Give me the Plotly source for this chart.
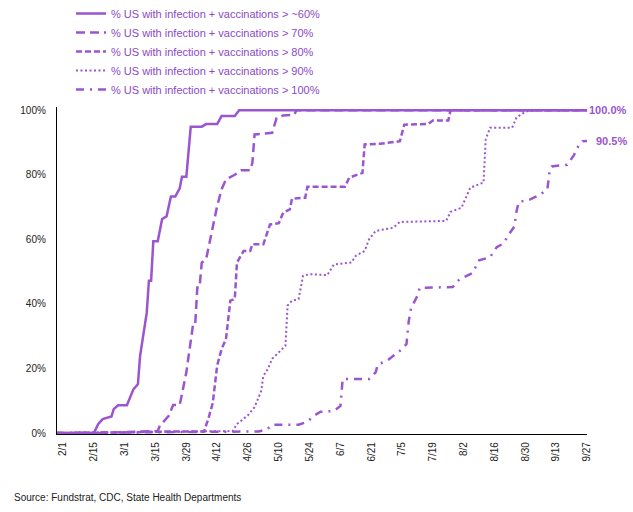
import plotly.graph_objects as go

PURPLE = "#9A55CF"

# ---- data ----
s60_dates = ["2021-01-29", "2021-02-15", "2021-02-17", "2021-02-19", "2021-02-23", "2021-02-24",
             "2021-02-26", "2021-03-02", "2021-03-05", "2021-03-07", "2021-03-08", "2021-03-11",
             "2021-03-12", "2021-03-13", "2021-03-14", "2021-03-16", "2021-03-18", "2021-03-20",
             "2021-03-22", "2021-03-24", "2021-03-26", "2021-03-27", "2021-03-29", "2021-03-31",
             "2021-04-05", "2021-04-07", "2021-04-12", "2021-04-14", "2021-04-20", "2021-04-22",
             "2021-09-27"]
s60_vals = [0, 0, 2.8, 4.3, 5.1, 7.4, 8.6, 8.6, 13.6, 15.1, 23.9, 37.2, 47.2, 47.2, 59.4, 59.4,
            66.3, 67.1, 73.3, 73.3, 75.8, 79.4, 79.4, 94.9, 94.9, 95.7, 95.7, 98.2, 98.2, 100, 100]

s70_dates = ["2021-01-29", "2021-02-15", "2021-03-01", "2021-03-16", "2021-03-17", "2021-03-21",
             "2021-03-23", "2021-03-26", "2021-03-29", "2021-03-31", "2021-04-01", "2021-04-02",
             "2021-04-03", "2021-04-04", "2021-04-05", "2021-04-07", "2021-04-10", "2021-04-12",
             "2021-04-14", "2021-04-16", "2021-04-20", "2021-04-23", "2021-04-27", "2021-04-28",
             "2021-04-29", "2021-05-07", "2021-05-09", "2021-05-12", "2021-05-17", "2021-05-18",
             "2021-09-27"]
s70_vals = [0, 0, 0.3, 0.6, 2.3, 5.3, 8.7, 8.7, 18.8, 29.1, 33.3, 33.3, 45.1, 45.1, 52.8, 53.9,
            64.2, 70.3, 75.5, 78.6, 80, 81.4, 81.4, 83.7, 92.5, 93, 97.6, 98.4, 98.6, 100, 100]

s80_dates = ["2021-01-29", "2021-02-15", "2021-03-01", "2021-03-23", "2021-04-06", "2021-04-08",
             "2021-04-10", "2021-04-12", "2021-04-14", "2021-04-16", "2021-04-18", "2021-04-20",
             "2021-04-21", "2021-04-24", "2021-04-27", "2021-04-28", "2021-05-03", "2021-05-06",
             "2021-05-10", "2021-05-12", "2021-05-15", "2021-05-16", "2021-05-22", "2021-05-23",
             "2021-06-09", "2021-06-11", "2021-06-17", "2021-06-18", "2021-06-25", "2021-07-04",
             "2021-07-06", "2021-07-17", "2021-07-19", "2021-07-26", "2021-07-27", "2021-09-27"]
s80_vals = [0, 0, 0.2, 0.5, 0.5, 4.4, 9.3, 20.9, 26, 29.1, 41, 41.5, 52.8, 56.4, 56.4, 58.5,
            58.5, 64.6, 65, 68.3, 69.3, 72.6, 72.9, 76.3, 76.3, 79.1, 80.6, 89.4, 89.6, 90.4,
            95.5, 95.8, 96.8, 96.8, 100, 100]

s90_dates = ["2021-01-29", "2021-03-01", "2021-04-02", "2021-04-19", "2021-04-21", "2021-04-26",
             "2021-04-29", "2021-05-02", "2021-05-03", "2021-05-05", "2021-05-07", "2021-05-13",
             "2021-05-14", "2021-05-16", "2021-05-19", "2021-05-21", "2021-05-24", "2021-06-01",
             "2021-06-04", "2021-06-12", "2021-06-14", "2021-06-18", "2021-06-20", "2021-06-23",
             "2021-07-01", "2021-07-04", "2021-07-25", "2021-07-27", "2021-08-01", "2021-08-05",
             "2021-08-11", "2021-08-12", "2021-08-14", "2021-08-24", "2021-08-26", "2021-08-30",
             "2021-09-01", "2021-09-27"]
s90_vals = [0, 0.2, 0.4, 0.6, 2.8, 5.5, 8, 13, 17.7, 19.8, 23, 27, 39.5, 41, 41.5, 48.7, 49.2,
            48.9, 52.2, 52.8, 54.9, 56.4, 60, 62.6, 63.6, 65.4, 65.7, 68.5, 69.8, 76, 77.6, 91,
            94.6, 94.6, 97.8, 99.5, 100, 100]

s100_dates = ["2021-01-29", "2021-03-01", "2021-04-02", "2021-04-17", "2021-05-01", "2021-05-05",
              "2021-05-07", "2021-05-19", "2021-05-23", "2021-05-26", "2021-05-29", "2021-06-04",
              "2021-06-07", "2021-06-08", "2021-06-20", "2021-06-23", "2021-06-24", "2021-06-28",
              "2021-07-02", "2021-07-05", "2021-07-07", "2021-07-08", "2021-07-09", "2021-07-12",
              "2021-07-13", "2021-07-28", "2021-07-31", "2021-08-06", "2021-08-09", "2021-08-14",
              "2021-08-17", "2021-08-20", "2021-08-22", "2021-08-25", "2021-08-26", "2021-08-27",
              "2021-09-01", "2021-09-04", "2021-09-06", "2021-09-09", "2021-09-10", "2021-09-11",
              "2021-09-18", "2021-09-21", "2021-09-23", "2021-09-25", "2021-09-27"]
s100_vals = [0, 0.1, 0.3, 0.4, 0.5, 1.3, 2.6, 2.6, 3.5, 5.4, 6.6, 6.8, 8.4, 16.7, 16.7, 18.8,
             21.3, 22.3, 24.4, 26, 27.6, 34.5, 38.5, 42.6, 45, 45.2, 47.6, 49.6, 53.5, 54.5,
             57.6, 58.7, 61, 64, 68.7, 71.6, 72.3, 73.3, 74, 75.5, 81, 82.6, 83.1, 86, 88.8,
             90.4, 90.5]

series_names = ["% US with infection + vaccinations > ~60%",
                "% US with infection + vaccinations > 70%",
                "% US with infection + vaccinations > 80%",
                "% US with infection + vaccinations > 90%",
                "% US with infection + vaccinations > 100%"]

tick_dates = ["2021-02-01", "2021-02-15", "2021-03-01", "2021-03-15", "2021-03-29", "2021-04-12",
              "2021-04-26", "2021-05-10", "2021-05-24", "2021-06-07", "2021-06-21", "2021-07-05",
              "2021-07-19", "2021-08-02", "2021-08-16", "2021-08-30", "2021-09-13", "2021-09-27"]
tick_labels = ["2/1", "2/15", "3/1", "3/15", "3/29", "4/12", "4/26", "5/10", "5/24", "6/7",
               "6/21", "7/5", "7/19", "8/2", "8/16", "8/30", "9/13", "9/27"]

y_ticks = [0, 20, 40, 60, 80, 100]
y_labels = ["0%", "20%", "40%", "60%", "80%", "100%"]

end_labels = ["100.0%", "90.5%"]
source_text = "Source: Fundstrat, CDC, State Health Departments"

# ---- figure ----
REG = "Liberation Sans, Arial, sans-serif"

styles = [
    dict(width=2.5, dash="solid"),
    dict(width=2.5, dash="9px,5px"),
    dict(width=2.5, dash="6px,3px"),
    dict(width=2, dash="2px,2.5px"),
    dict(width=2.5, dash="8px,6px,2px,6px"),
]
data = [(s60_dates, s60_vals), (s70_dates, s70_vals), (s80_dates, s80_vals),
        (s90_dates, s90_vals), (s100_dates, s100_vals)]

fig = go.Figure()
for (xs, ys), name, st in zip(data, series_names, styles):
    fig.add_trace(go.Scatter(x=xs, y=ys, mode="lines", name=name,
                             line=dict(color=PURPLE, width=st["width"], dash=st["dash"])))

L, R, T, B = 57, 46, 107, 78
W, H = 633, 512
plot_w = W - L - R
plot_h = H - T - B

fig.update_layout(
    width=W, height=H,
    margin=dict(l=L, r=R, t=T, b=B, pad=0, autoexpand=False),
    paper_bgcolor="white", plot_bgcolor="white",
    showlegend=True,
    legend=dict(x=(71 - L) / plot_w, xanchor="left", y=(H - B + 1) / plot_h, yanchor="top",
                font=dict(family=REG, size=11, color="#8B49C6"),
                bgcolor="rgba(0,0,0,0)", tracegroupgap=0, borderwidth=0),
    xaxis=dict(type="date", range=["2021-01-29 06:00", "2021-09-27"],
               tickvals=tick_dates, ticktext=tick_labels, tickangle=-90,
               showgrid=False, zeroline=False, showline=True, linecolor="black", linewidth=1.3,
               ticks="", ticklabelstandoff=3, layer="below traces",
               tickfont=dict(family=REG, size=10, color="#222222")),
    yaxis=dict(range=[-0.3, 101], tickvals=y_ticks, ticktext=y_labels,
               showgrid=False, zeroline=False, showline=True, linecolor="black", linewidth=1.3,
               ticks="", ticklabelstandoff=8, layer="below traces",
               tickfont=dict(family=REG, size=10, color="#222222")),
)

fig.add_annotation(xref="paper", yref="y", x=(629 - L) / plot_w, y=s60_vals[-1],
                   text="<b>" + end_labels[0] + "</b>", showarrow=False, xanchor="right",
                   font=dict(family=REG, size=11, color=PURPLE))
fig.add_annotation(xref="paper", yref="y", x=(629 - L) / plot_w, y=s100_vals[-1],
                   text="<b>" + end_labels[1] + "</b>", showarrow=False, xanchor="right",
                   font=dict(family=REG, size=11, color=PURPLE))
fig.add_annotation(xref="paper", yref="paper", x=(12 - L) / plot_w, y=-(497 - (H - B)) / plot_h,
                   text=source_text, showarrow=False, xanchor="left", yanchor="middle",
                   font=dict(family=REG, size=10, color="#222222"))

fig.write_html("out.html", config={"displayModeBar": False},
               post_script="document.body.style.margin='0';")
